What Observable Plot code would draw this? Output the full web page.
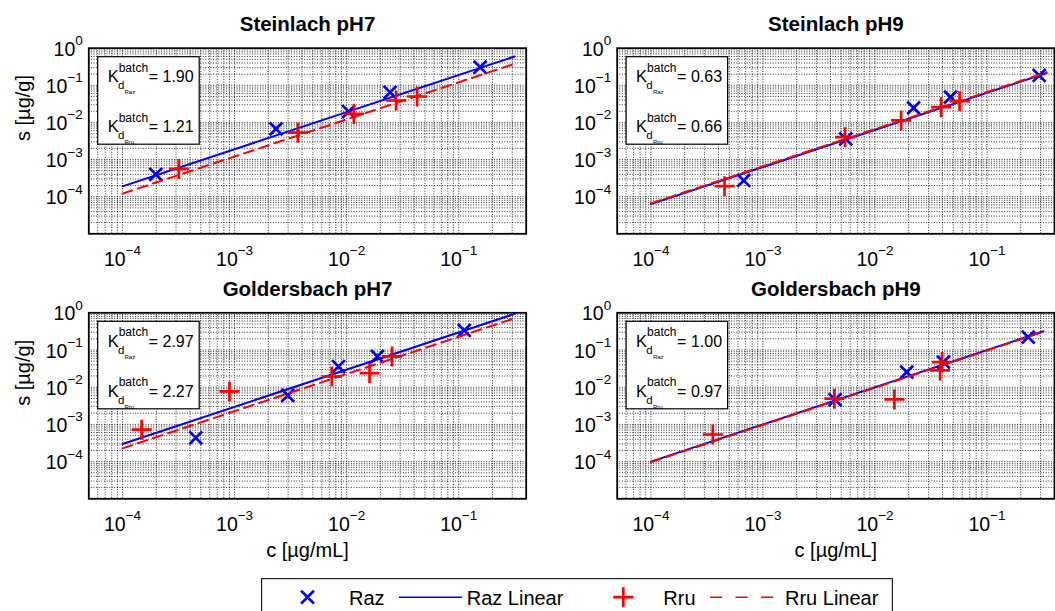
<!DOCTYPE html>
<html><head><meta charset="utf-8">
<script src="https://cdn.jsdelivr.net/npm/d3@7"></script>
<script src="https://cdn.jsdelivr.net/npm/@observablehq/plot@0.6"></script>
<style>
body{margin:0;background:#fff;}
#wrap{position:relative;width:1055px;height:611px;overflow:hidden;background:#fff;}
#wrap > svg, #wrap > div{position:absolute;}
</style></head><body><div id="wrap"></div>
<script>
const FONT = "'Liberation Sans', Arial, Helvetica, sans-serif";
const BLUE = "#0000ff", RED = "#ff0000";

// ---- panel titles & Kd values
const titles = ["Steinlach pH7", "Steinlach pH9", "Goldersbach pH7", "Goldersbach pH9"];
const kdRaz = ["1.90", "0.63", "2.97", "1.00"];
const kdRru = ["1.21", "0.66", "2.27", "0.97"];

// ---- axis ticks
const xTickVals = [1e-4, 1e-3, 1e-2, 1e-1];
const yTickVals = [1, 1e-1, 1e-2, 1e-3, 1e-4];
const xDomain = [5e-5, 0.4];
const yDomain = [1e-5, 1];

// ---- Steinlach pH7
const razC_S7 = [1.98e-4, 2.34e-3, 1.04e-2, 2.44e-2, 0.155];
const razS_S7 = [4.0e-4, 6.7e-3, 1.97e-2, 6.5e-2, 0.308];
const rruC_S7 = [3.18e-4, 3.67e-3, 1.16e-2, 2.76e-2, 4.25e-2];
const rruS_S7 = [5.6e-4, 5.3e-3, 1.7e-2, 3.9e-2, 5.0e-2];
const fitC_S7 = [1e-4, 0.315];
const fitRaz_S7 = [1.9e-4, 0.60];
const fitRru_S7 = [1.21e-4, 0.38];

// ---- Steinlach pH9
const razC_S9 = [6.73e-4, 5.48e-3, 2.21e-2, 4.72e-2, 0.292];
const razS_S9 = [2.73e-4, 3.6e-3, 2.47e-2, 4.8e-2, 0.184];
const rruC_S9 = [4.54e-4, 5.4e-3, 1.71e-2, 3.89e-2, 5.69e-2];
const rruS_S9 = [1.92e-4, 4.0e-3, 1.13e-2, 2.58e-2, 3.74e-2];
const fitC_S9 = [1e-4, 0.34];
const fitRaz_S9 = [6.3e-5, 0.214];
const fitRru_S9 = [6.6e-5, 0.224];

// ---- Goldersbach pH7
const razC_G7 = [4.5e-4, 2.98e-3, 8.45e-3, 1.88e-2, 0.112];
const razS_G7 = [4.36e-4, 6.0e-3, 3.6e-2, 6.7e-2, 0.335];
const rruC_G7 = [1.48e-4, 9.0e-4, 7.36e-3, 1.6e-2, 2.54e-2];
const rruS_G7 = [7.2e-4, 7.7e-3, 1.94e-2, 2.39e-2, 6.7e-2];
const fitC_G7 = [1e-4, 0.315];
const fitRaz_G7 = [2.97e-4, 0.935];
const fitRru_G7 = [2.27e-4, 0.715];

// ---- Goldersbach pH9
const razC_G9 = [4.4e-3, 1.92e-2, 4.08e-2, 0.233];
const razS_G9 = [4.6e-3, 2.54e-2, 4.72e-2, 0.222];
const rruC_G9 = [3.57e-4, 4.34e-3, 1.49e-2, 3.81e-2, 3.97e-2];
const rruS_G9 = [5.36e-4, 4.9e-3, 4.7e-3, 2.82e-2, 4.72e-2];
const fitC_G9 = [1e-4, 0.318];
const fitRaz_G9 = [1.0e-4, 0.318];
const fitRru_G9 = [9.7e-5, 0.308];

const panels = [
  {razC: razC_S7, razS: razS_S7, rruC: rruC_S7, rruS: rruS_S7, fitC: fitC_S7, fitRaz: fitRaz_S7, fitRru: fitRru_S7},
  {razC: razC_S9, razS: razS_S9, rruC: rruC_S9, rruS: rruS_S9, fitC: fitC_S9, fitRaz: fitRaz_S9, fitRru: fitRru_S9},
  {razC: razC_G7, razS: razS_G7, rruC: rruC_G7, rruS: rruS_G7, fitC: fitC_G7, fitRaz: fitRaz_G7, fitRru: fitRru_G7},
  {razC: razC_G9, razS: razS_G9, rruC: rruC_G9, rruS: rruS_G9, fitC: fitC_G9, fitRaz: fitRaz_G9, fitRru: fitRru_G9}
];

// log grid positions (1..9 x 10^k) inside a domain
function logGrid([lo, hi]) {
  const out = [];
  for (let k = -6; k <= 1; k++) for (let m = 1; m <= 9; m++) {
    const v = m * Math.pow(10, k);
    if (v > lo * 1.0001 && v < hi * 0.9999) out.push(v);
  }
  return out;
}
const xGrid = logGrid(xDomain);
const yGrid = logGrid(yDomain);
const powLabel = d => "10^" + String(Math.round(Math.log10(d))).replace("-", "\u2212");

function kdBox(a, b) {
  return (index, scales, values, dim) => {
    const g = d3.create("svg:g")
      .attr("transform", `translate(${dim.marginLeft + 9.4},${dim.marginTop + 9})`)
      .attr("font-family", FONT).attr("fill", "#000").attr("text-anchor", "start");
    g.append("rect").attr("width", 101.5).attr("height", 87.5)
      .attr("fill", "#fff").attr("stroke", "#000").attr("stroke-width", 1.2);
    [[a, "Raz", 25.6], [b, "Rru", 75.6]].forEach(([v, sub, by]) => {
      g.append("text").attr("x", 10).attr("y", by).attr("font-size", 16.5).text("K");
      g.append("text").attr("x", 21).attr("y", by - 10.5).attr("font-size", 12).text("batch");
      g.append("text").attr("x", 20.2).attr("y", by + 7).attr("font-size", 11.5).text("d");
      g.append("text").attr("x", 26.8).attr("y", by + 12).attr("font-size", 6).text(sub);
      g.append("text").attr("x", 51).attr("y", by).attr("font-size", 16).text("= " + v);
    });
    return g.node();
  };
}

function makePanel(i, pos) {
  const p = panels[i];
  const raz = p.razC.map((c, j) => ({c, s: p.razS[j]}));
  const rru = p.rruC.map((c, j) => ({c, s: p.rruS[j]}));
  const fitRaz = p.fitC.map((c, j) => ({c, s: p.fitRaz[j]}));
  const fitRru = p.fitC.map((c, j) => ({c, s: p.fitRru[j]}));
  const gridStyle = {stroke: "#000", strokeOpacity: 0.8, strokeWidth: 1, strokeDasharray: "1,1.6"};
  const marks = [
    Plot.ruleX(xGrid, {x: d => d, ...gridStyle}),
    Plot.ruleY(yGrid, {y: d => d, ...gridStyle}),
    Plot.dot(raz, {x: "c", y: "s", symbol: "times", r: 5.9, fill: "none", stroke: BLUE, strokeWidth: 2.7}),
    Plot.line(fitRaz, {x: "c", y: "s", stroke: BLUE, strokeWidth: 2}),
    Plot.dot(rru, {x: "c", y: "s", symbol: "plus", r: 6.5, fill: "none", stroke: RED, strokeWidth: 2.7}),
    Plot.line(fitRru, {x: "c", y: "s", stroke: RED, strokeWidth: 2, strokeDasharray: "10,6"}),
    Plot.frame({stroke: "#000", strokeWidth: 1.8}),
    Plot.text(xTickVals, {x: d => d, frameAnchor: "bottom", dy: 31.7, lineAnchor: "bottom", text: powLabel, fontSize: 19.5}),
    Plot.text(yTickVals, {y: d => d, frameAnchor: "left", dx: -6, dy: 7.5, textAnchor: "end", lineAnchor: "bottom", text: powLabel, fontSize: 19.5}),
    Plot.text([titles[i]], {frameAnchor: "top", dy: -17, lineAnchor: "bottom", fontWeight: "bold", fontSize: 20.5, text: d => d}),
    kdBox(kdRaz[i], kdRru[i])
  ];
  if (pos.xlabel) marks.push(Plot.text(["c [\u00b5g/mL]"], {frameAnchor: "bottom", dy: 58.4, lineAnchor: "bottom", fontSize: 20, text: d => d}));
  if (pos.ylabel) marks.push(Plot.text(["s [\u00b5g/g]"], {frameAnchor: "left", dx: -59.3, rotate: -90, lineAnchor: "bottom", fontSize: 20, text: d => d}));
  const svg = Plot.plot({
    width: pos.w, height: pos.h,
    marginLeft: pos.ml, marginRight: pos.mr, marginTop: pos.mt, marginBottom: pos.mb,
    x: {type: "log", domain: xDomain, axis: null},
    y: {type: "log", domain: yDomain, axis: null},
    style: {fontFamily: FONT, fontSize: "19.5px", background: "transparent", overflow: "visible", color: "#000"},
    marks
  });
  // render 10^k labels with raised exponents
  d3.select(svg).selectAll("text").each(function() {
    const t = this.textContent;
    const m = /^10\^(.+)$/.exec(t);
    if (!m) return;
    const sel = d3.select(this);
    sel.text(null);
    sel.append("tspan").text("10");
    sel.append("tspan").attr("dy", -10.5).attr("font-size", 13.5).text(m[1]);
  });
  svg.style.left = pos.left + "px";
  svg.style.top = pos.top + "px";
  document.getElementById("wrap").appendChild(svg);
}

makePanel(0, {left: 0, top: 0, w: 530, h: 275, ml: 88.3, mr: 4.3, mt: 47.7, mb: 41.7, ylabel: true});
makePanel(1, {left: 528, top: 0, w: 527, h: 275, ml: 88.7, mr: 1, mt: 47.7, mb: 41.7});
makePanel(2, {left: 0, top: 270, w: 530, h: 300, ml: 88.3, mr: 4.3, mt: 42.3, mb: 71.7, ylabel: true, xlabel: true});
makePanel(3, {left: 528, top: 270, w: 527, h: 300, ml: 88.7, mr: 1, mt: 42.3, mb: 71.7, xlabel: true});

// ---- legend
const legendItems = ["Raz", "Raz Linear", "Rru", "Rru Linear"];
(function legend() {
  const L = 261, T = 578.3, W = 632, H = 40;
  const svg = d3.create("svg").attr("width", W).attr("height", H)
    .style("left", L + "px").style("top", T + "px")
    .attr("font-family", FONT).attr("font-size", 20);
  svg.append("rect").attr("x", 0.6).attr("y", 0.6).attr("width", W - 1.2).attr("height", H)
    .attr("fill", "#fff").attr("stroke", "#222").attr("stroke-width", 1.2);
  const cy = 597.5 - T, by = 605 - T;
  const sz = r => r * r * Math.PI;
  svg.append("path").attr("transform", `translate(${307.5 - L},${cy})`)
    .attr("d", d3.symbol(d3.symbolTimes, sz(5.9))()).attr("fill", "none").attr("stroke", BLUE).attr("stroke-width", 2.7);
  svg.append("text").attr("x", 349 - L).attr("y", by).text(legendItems[0]);
  svg.append("line").attr("x1", 399 - L).attr("x2", 462 - L).attr("y1", cy).attr("y2", cy).attr("stroke", BLUE).attr("stroke-width", 1.6);
  svg.append("text").attr("x", 466.7 - L).attr("y", by).text(legendItems[1]);
  svg.append("path").attr("transform", `translate(${623.3 - L},${cy})`)
    .attr("d", d3.symbol(d3.symbolPlus, sz(6.5))()).attr("fill", "none").attr("stroke", RED).attr("stroke-width", 2.7);
  svg.append("text").attr("x", 663.3 - L).attr("y", by).text(legendItems[2]);
  svg.append("line").attr("x1", 710 - L).attr("x2", 774 - L).attr("y1", cy).attr("y2", cy).attr("stroke", RED).attr("stroke-width", 1.6).attr("stroke-dasharray", "12,13.5");
  svg.append("text").attr("x", 785 - L).attr("y", by).text(legendItems[3]);
  document.getElementById("wrap").appendChild(svg.node());
})();
</script></body></html>
